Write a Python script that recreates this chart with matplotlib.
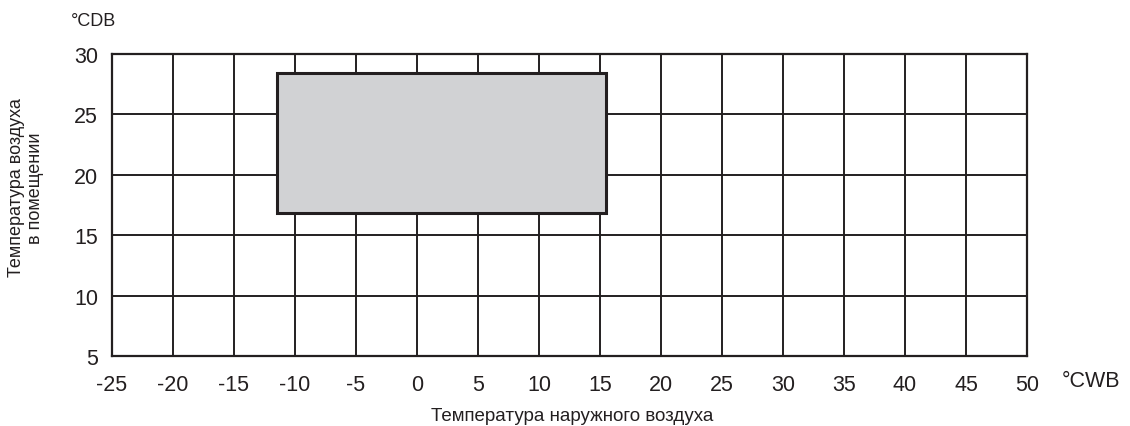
import matplotlib
matplotlib.use("Agg")
import matplotlib.pyplot as plt
from matplotlib.patches import Rectangle

plt.rcParams['font.family'] = ['Liberation Sans', 'DejaVu Sans']

# axis ranges / ticks
x_ticks = list(range(-25, 51, 5))
y_ticks = list(range(5, 31, 5))

# operating range (outdoor CWB, indoor CDB)
range_x = [-11.5, 15.5]
range_y = [16.8, 28.4]

line_color = '#231f20'
fill_color = '#d1d2d4'

fig = plt.figure(figsize=(11.3, 4.27), dpi=100)
ax = fig.add_axes([0.0991, 0.1639, 0.8097, 0.7073])

ax.set_xlim(x_ticks[0], x_ticks[-1])
ax.set_ylim(y_ticks[0], y_ticks[-1])
ax.set_xticks(x_ticks)
ax.set_yticks(y_ticks)
ax.set_xticklabels([str(v) for v in x_ticks])
ax.set_yticklabels([str(v) for v in y_ticks])
ax.tick_params(length=0, labelsize=15.5, colors='#231f20')
ax.tick_params(axis='x', pad=13)
ax.tick_params(axis='y', pad=10)

ax.grid(True, color=line_color, linewidth=1.4)
ax.set_axisbelow(True)
for s in ax.spines.values():
    s.set_color(line_color)
    s.set_linewidth(1.6)

rect = Rectangle((range_x[0], range_y[0]), range_x[1] - range_x[0], range_y[1] - range_y[0],
                 facecolor=fill_color, edgecolor=line_color, linewidth=2.2, zorder=3)
ax.add_patch(rect)

fig.text(94 / 1130, 1 - 21 / 427, '°CDB', fontsize=13, ha='center', va='center', color='#231f20')
fig.text(1091 / 1130, 1 - 382 / 427, '°CWB', fontsize=15.5, ha='center', va='center', color='#231f20')
fig.text(572 / 1130, 1 - 417 / 427, 'Температура наружного воздуха', fontsize=13.5,
         ha='center', va='center', color='#231f20')
fig.text(26 / 1130, 1 - 188 / 427, 'Температура воздуха\nв помещении', fontsize=13,
         ha='center', va='center', rotation=90, color='#231f20', linespacing=1.2)

fig.savefig('out.png', dpi=100)
